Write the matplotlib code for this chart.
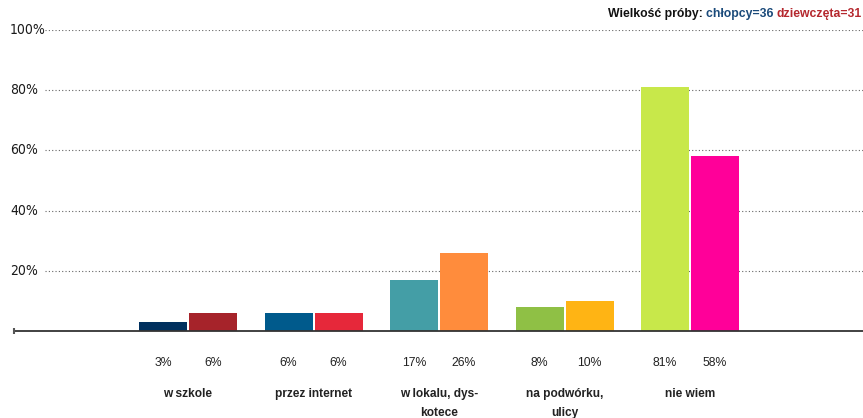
import matplotlib
matplotlib.use("Agg")
import matplotlib.pyplot as plt
from matplotlib import font_manager as fm
import matplotlib.transforms as mtransforms

categories = ["w szkole", "przez internet", "w lokalu, dys-\nkotece", "na podwórku,\nulicy", "nie wiem"]
boys = [3, 6, 17, 8, 81]
girls = [6, 6, 26, 10, 58]
boys_labels = ["3%", "6%", "17%", "8%", "81%"]
girls_labels = ["6%", "6%", "26%", "10%", "58%"]
yticks = [20, 40, 60, 80, 100]
ytick_labels = ["20%", "40%", "60%", "80%", "100%"]
boys_colors = ["#00305e", "#005a8c", "#449ea6", "#8fc045", "#c8e84a"]
girls_colors = ["#a6232a", "#e6283a", "#ff8c3c", "#ffb414", "#ff0099"]

names = {f.name for f in fm.fontManager.ttflist}
narrow = None
for cand in ["Liberation Sans Narrow", "DejaVu Sans Condensed"]:
    if cand in names:
        narrow = cand
        break
condensed_dejavu = any(f.name == "DejaVu Sans" and f.stretch == "condensed" for f in fm.fontManager.ttflist)

plt.rcParams["font.family"] = ["Liberation Sans", "DejaVu Sans"]

W, H = 863, 418
fig = plt.figure(figsize=(W / 100, H / 100), dpi=100)
ax_left, ax_right = 14, 863
y0, y100 = 331, 30
ax = fig.add_axes([ax_left / W, 1 - y0 / H, (ax_right - ax_left) / W, (y0 - y100) / H])

spacing = 125.5
c0 = 188
x_min = (ax_left - c0) / spacing
x_max = (ax_right - c0) / spacing
bw = 48 / spacing
off = 25 / spacing

xs = list(range(len(categories)))
ax.bar([x - off for x in xs], boys, width=bw, color=boys_colors, zorder=3)
ax.bar([x + off for x in xs], girls, width=bw, color=girls_colors, zorder=3)

ax.set_xlim(x_min, x_max)
ax.set_ylim(0, 100)
for s in ax.spines.values():
    s.set_visible(False)
ax.set_xticks([])
ax.set_yticks([])

# gridlines
gx0 = (45 - ax_left) / (ax_right - ax_left)
for yt in yticks:
    ax.axhline(yt, xmin=gx0, xmax=1, color="#666666", lw=0.8, ls=(0, (1, 2)), zorder=1)

# baseline
ax.axhline(0, color="#333333", lw=1.3, zorder=4, clip_on=False)
ax.plot([x_min], [0], marker="|", color="#555555", ms=5, mew=1.5, clip_on=False, zorder=5)

# y labels
trans = mtransforms.blended_transform_factory(fig.transFigure, ax.transData)
if narrow:
    ykw = dict(family=narrow, fontsize=12.5)
elif condensed_dejavu:
    ykw = dict(family="DejaVu Sans", stretch="condensed", fontsize=10)
else:
    ykw = dict(family="DejaVu Sans", fontsize=9)
for yt, lab in zip(yticks, ytick_labels):
    fig.text(10 / W, yt, lab, transform=trans, ha="left", va="center", color="#1a1a1a", **ykw)

# value labels and categories
tx = mtransforms.blended_transform_factory(ax.transData, ax.transAxes)
hpx = y0 - y100
for x, bl, gl, cat in zip(xs, boys_labels, girls_labels, categories):
    ax.text(x - off, -(363 - y0) / hpx, bl, transform=tx, ha="center", va="center", fontsize=8.8, color="#222222")
    ax.text(x + off, -(363 - y0) / hpx, gl, transform=tx, ha="center", va="center", fontsize=8.8, color="#222222")
    ax.text(x, -(388 - y0) / hpx, cat, transform=tx, ha="center", va="top", fontsize=8.6,
            fontweight="bold", color="#222222", linespacing=1.75)

# sample size title (right aligned)
t3 = fig.text(1 - 1 / W, 1 - 17 / H, "dziewczęta=31", ha="right", va="baseline",
              fontsize=8.8, fontweight="bold", color="#b5282e")
t2 = ax.annotate("chłopcy=36 ", xy=(0, 0), xycoords=t3, ha="right", va="bottom",
                 fontsize=8.8, fontweight="bold", color="#1a4a7a", annotation_clip=False)
t1 = ax.annotate("Wielkość próby: ", xy=(0, 0), xycoords=t2, ha="right", va="bottom",
                 fontsize=8.8, fontweight="bold", color="#111111", annotation_clip=False)

fig.savefig("out.png", dpi=100)
